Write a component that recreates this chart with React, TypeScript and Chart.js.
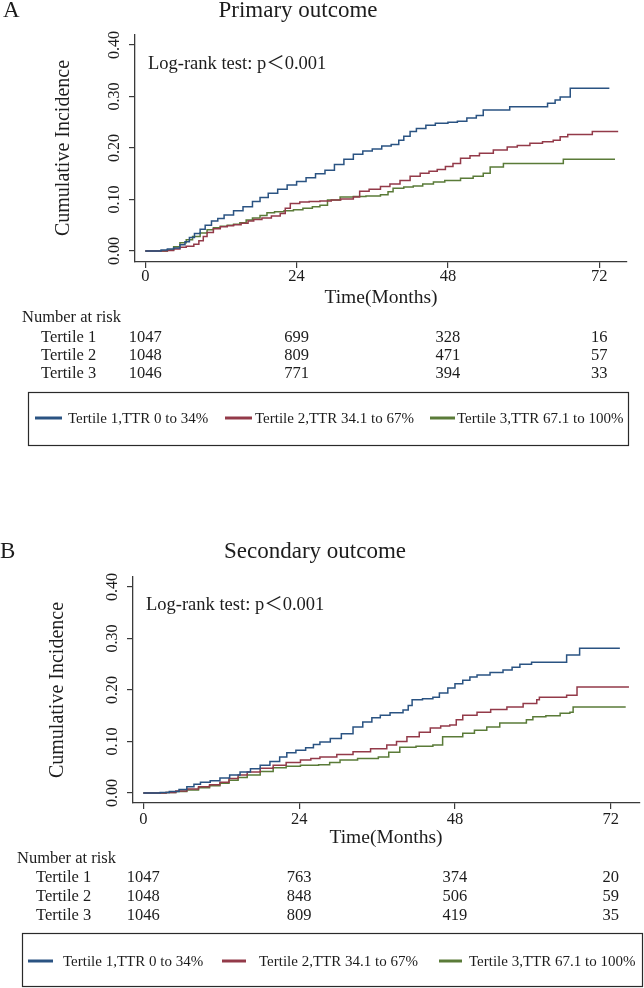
import React, { useEffect, useRef } from "react";
import { Chart, registerables } from "chart.js";

Chart.register(...registerables);

// ---------- data ----------
const TIME_TICKS = [0, 24, 48, 72];
const INCIDENCE_TICKS = [0, 0.1, 0.2, 0.3, 0.4];
const SERIES_LABELS = [
  "Tertile 1,TTR 0 to 34%",
  "Tertile 2,TTR 34.1 to 67%",
  "Tertile 3,TTR 67.1 to 100%",
];
const RISK_GROUPS = ["Tertile 1", "Tertile 2", "Tertile 3"];

const PRIMARY_AT_RISK_T1 = [1047, 699, 328, 16];
const PRIMARY_AT_RISK_T2 = [1048, 809, 471, 57];
const PRIMARY_AT_RISK_T3 = [1046, 771, 394, 33];
const SECONDARY_AT_RISK_T1 = [1047, 763, 374, 20];
const SECONDARY_AT_RISK_T2 = [1048, 848, 506, 59];
const SECONDARY_AT_RISK_T3 = [1046, 809, 419, 35];

// [month, cumulative incidence]
const PRIMARY_T1: [number, number][] = [
  [0, 0], [2.5, 0.002], [3.5, 0.004], [4.5, 0.006], [5.5, 0.012], [6.3, 0.018], [7, 0.026],
  [7.8, 0.034], [8.7, 0.042], [9.5, 0.05], [10.5, 0.058], [11.5, 0.063], [12.5, 0.07],
  [14, 0.078], [15.5, 0.086], [17, 0.096], [18.2, 0.104], [19.5, 0.112], [21, 0.12],
  [22.5, 0.128], [24, 0.135], [25.5, 0.142], [27, 0.15], [28.5, 0.157], [30, 0.168],
  [31.5, 0.178], [33, 0.188], [34.5, 0.194], [36, 0.198], [37.5, 0.204], [39, 0.207],
  [40.2, 0.215], [41, 0.223], [42, 0.232], [43, 0.238], [44.5, 0.244], [46, 0.248],
  [48, 0.25], [49.5, 0.252], [51, 0.258], [52.5, 0.263], [53.6, 0.274], [57.8, 0.28],
  [63.8, 0.287], [65, 0.293], [65.8, 0.299], [67.4, 0.316], [73.6, 0.316],
];
const PRIMARY_T2: [number, number][] = [
  [0, 0], [3.5, 0.001], [4.5, 0.004], [5.5, 0.007], [6.5, 0.009], [7.7, 0.013], [8.5, 0.02],
  [9.2, 0.028], [9.8, 0.036], [10.8, 0.043], [11.9, 0.047], [13, 0.049], [14, 0.051],
  [15.2, 0.054], [16.3, 0.058], [17.2, 0.061], [18.5, 0.064], [20, 0.068], [21.4, 0.073],
  [22.2, 0.083], [23, 0.092], [24.5, 0.095], [26, 0.096], [27.7, 0.097], [29.5, 0.099],
  [31, 0.101], [33, 0.105], [34, 0.116], [35.5, 0.12], [37.3, 0.125], [38.8, 0.13],
  [40.4, 0.137], [42, 0.145], [43.6, 0.151], [45, 0.155], [46.3, 0.158], [47.6, 0.164],
  [48.8, 0.17], [50, 0.18], [51.5, 0.185], [53, 0.19], [55.2, 0.196], [57.4, 0.202],
  [59, 0.205], [61, 0.209], [63, 0.212], [64.7, 0.215], [65.8, 0.222], [67, 0.226],
  [70.9, 0.232], [75, 0.232],
];
const PRIMARY_T3: [number, number][] = [
  [0, 0], [3.5, 0.002], [4.5, 0.008], [5.5, 0.016], [6.5, 0.022], [7.5, 0.028], [8.7, 0.035],
  [9.8, 0.041], [10.8, 0.045], [11.9, 0.048], [13, 0.05], [14, 0.052], [15, 0.055], [16, 0.06],
  [17, 0.064], [18.2, 0.069], [19.3, 0.074], [20.5, 0.076], [22, 0.078], [23.5, 0.08],
  [25, 0.083], [26.5, 0.086], [27.7, 0.089], [28.9, 0.099], [30.9, 0.105], [33, 0.106],
  [35, 0.107], [37.3, 0.109], [38.5, 0.115], [39.3, 0.122], [41, 0.124], [42.5, 0.126],
  [44, 0.13], [45.7, 0.134], [47.5, 0.137], [50, 0.141], [52, 0.145], [53.6, 0.151],
  [54.7, 0.163], [56.8, 0.17], [66.3, 0.178], [74.5, 0.178],
];
const SECONDARY_T1: [number, number][] = [
  [0, 0], [2.6, 0.001], [4, 0.003], [5.5, 0.007], [6.7, 0.012], [7.8, 0.017], [8.8, 0.021],
  [10.3, 0.024], [11.8, 0.029], [13.3, 0.035], [14.9, 0.041], [16.5, 0.047], [18, 0.054],
  [19.5, 0.061], [21, 0.07], [22.1, 0.078], [23.5, 0.083], [25, 0.088], [26.2, 0.094],
  [27.2, 0.099], [28.8, 0.106], [30.5, 0.115], [32.3, 0.128], [33.8, 0.138], [35.2, 0.146],
  [36.5, 0.151], [38, 0.156], [40, 0.161], [40.8, 0.17], [41.4, 0.181], [43, 0.183],
  [44.6, 0.186], [45.6, 0.194], [46.9, 0.204], [48, 0.212], [49.2, 0.219], [50.3, 0.225],
  [51.4, 0.229], [53.4, 0.234], [55.4, 0.239], [56.8, 0.244], [58, 0.25], [59.8, 0.254],
  [64, 0.254], [65.2, 0.268], [67.2, 0.281], [73.4, 0.281],
];
const SECONDARY_T2: [number, number][] = [
  [0, 0], [3.5, 0.001], [5, 0.004], [6.7, 0.008], [8.5, 0.012], [10.2, 0.016], [11.8, 0.021],
  [13.2, 0.028], [14.6, 0.035], [16, 0.041], [18, 0.048], [20, 0.054], [22, 0.059],
  [24.2, 0.064], [25.8, 0.067], [27.2, 0.07], [29.8, 0.075], [32.3, 0.08], [35, 0.086],
  [37.5, 0.093], [39, 0.1], [40.6, 0.109], [42.5, 0.118], [44.2, 0.126], [45.8, 0.13],
  [47.2, 0.132], [48.2, 0.142], [49.2, 0.151], [51.4, 0.157], [53.5, 0.162], [56, 0.167],
  [58.5, 0.174], [60.6, 0.181], [61, 0.186], [65.2, 0.19], [66.8, 0.206], [74.8, 0.206],
];
const SECONDARY_T3: [number, number][] = [
  [0, 0], [3.5, 0.001], [5, 0.003], [6.7, 0.006], [8.5, 0.01], [10.2, 0.014], [11.8, 0.019],
  [13.2, 0.025], [14.6, 0.03], [16, 0.035], [18, 0.042], [20, 0.049], [22, 0.052],
  [24.2, 0.054], [27, 0.055], [28.7, 0.059], [30.3, 0.064], [33, 0.067], [36.2, 0.07],
  [37.8, 0.079], [39.5, 0.089], [42, 0.091], [44.6, 0.093], [46.1, 0.109], [49.2, 0.116],
  [51, 0.122], [52.9, 0.128], [54.9, 0.136], [59, 0.142], [60, 0.148], [62, 0.15],
  [64.2, 0.155], [65.7, 0.157], [66.2, 0.167], [74.3, 0.167],
];

// ---------- styles ----------
const COLORS = ["#2a5382", "#933a49", "#5a7b38"];
const AXIS_COLOR = "#3a3a3a";
const TEXT_COLOR = "#1c1c1c";
const SERIF = '"Liberation Serif", "Times New Roman", serif';
const LOGRANK_FONT = '"Liberation Serif", "Noto Sans CJK SC", serif';

type Layout = {
  width: number;
  height: number;
  area: { left: number; right: number; top: number; bottom: number };
  xRange: [number, number];
  yRange: [number, number];
  xLabelPad: number;
  letter: { x: number; y: number };
  title: { x: number; y: number };
  logrank: { x: number; y: number };
  yTitle: { x: number; y: number };
  yTickGap: number;
  xTitle: { x: number; y: number };
  riskHeader: { x: number; y: number };
  riskLabelX: number;
  riskRows: number[];
  legendBox: [number, number, number, number];
  legendY: number;
  legendLines: [number, number][];
  legendTextX: number[];
};

const TOP_LAYOUT: Layout = {
  width: 644,
  height: 494,
  area: { left: 135, right: 627, top: 35, bottom: 262 },
  xRange: [-1.63, 76.4],
  yRange: [-0.0214, 0.4194],
  xLabelPad: 0,
  letter: { x: 3, y: 17 },
  title: { x: 298, y: 17 },
  logrank: { x: 148, y: 69 },
  yTitle: { x: 64, y: 148 },
  yTickGap: 20,
  xTitle: { x: 381, y: 303 },
  riskHeader: { x: 22, y: 322 },
  riskLabelX: 41,
  riskRows: [342, 360, 378],
  legendBox: [28, 392, 628, 445],
  legendY: 418,
  legendLines: [[35, 62], [225, 252], [430, 455]],
  legendTextX: [68, 255, 457],
};

const BOTTOM_LAYOUT: Layout = {
  width: 644,
  height: 494,
  area: { left: 133, right: 640, top: 83, bottom: 309 },
  xRange: [-1.59, 76.5],
  yRange: [-0.0194, 0.4194],
  xLabelPad: 2,
  letter: { x: 0, y: 64 },
  title: { x: 315, y: 64 },
  logrank: { x: 146, y: 116 },
  yTitle: { x: 57.5, y: 196 },
  yTickGap: 20.5,
  xTitle: { x: 386, y: 349 },
  riskHeader: { x: 17, y: 369 },
  riskLabelX: 36,
  riskRows: [388, 407, 426],
  legendBox: [22, 439, 642, 492],
  legendY: 467,
  legendLines: [[28, 53], [222, 246], [439, 462]],
  legendTextX: [63, 259, 469],
};

type PanelProps = {
  letter: string;
  title: string;
  series: [number, number][][];
  atRisk: number[][];
  layout: Layout;
};

function KMPanel({ letter, title, series, atRisk, layout }: PanelProps) {
  const ref = useRef<HTMLCanvasElement | null>(null);

  useEffect(() => {
    if (!ref.current) return;
    const L = layout;

    const annotate = {
      id: "kmAnnotate",
      afterDraw(chart: any) {
        const ctx = chart.ctx as CanvasRenderingContext2D;
        const xs = chart.scales.x;
        const ys = chart.scales.y;
        const ca = chart.chartArea;
        ctx.save();
        ctx.fillStyle = TEXT_COLOR;
        ctx.textBaseline = "alphabetic";

        // letter & title
        ctx.font = `23px ${SERIF}`;
        ctx.textAlign = "left";
        ctx.fillText(letter, L.letter.x, L.letter.y);
        ctx.textAlign = "center";
        ctx.fillText(title, L.title.x, L.title.y);

        // log-rank
        ctx.font = `18.5px ${LOGRANK_FONT}`;
        ctx.textAlign = "left";
        ctx.fillText("Log-rank test: p\uFF1C0.001", L.logrank.x, L.logrank.y);

        // y title
        ctx.font = `20px ${SERIF}`;
        ctx.save();
        ctx.translate(L.yTitle.x, L.yTitle.y);
        ctx.rotate(-Math.PI / 2);
        ctx.textAlign = "center";
        ctx.textBaseline = "middle";
        ctx.fillText("Cumulative Incidence", 0, 0);
        ctx.restore();

        // y tick labels (rotated)
        ctx.font = `16px ${SERIF}`;
        ys.ticks.forEach((t: any) => {
          const py = ys.getPixelForValue(t.value);
          ctx.save();
          ctx.translate(ca.left - L.yTickGap, py);
          ctx.rotate(-Math.PI / 2);
          ctx.textAlign = "center";
          ctx.textBaseline = "middle";
          ctx.fillText(Number(t.value).toFixed(2), 0, 0);
          ctx.restore();
        });

        // x title
        ctx.font = `19.5px ${SERIF}`;
        ctx.textAlign = "center";
        ctx.textBaseline = "alphabetic";
        ctx.fillText("Time(Months)", L.xTitle.x, L.xTitle.y);

        // number at risk
        ctx.font = `16.5px ${SERIF}`;
        ctx.textAlign = "left";
        ctx.fillText("Number at risk", L.riskHeader.x, L.riskHeader.y);
        RISK_GROUPS.forEach((g, i) => {
          const yy = L.riskRows[i];
          ctx.textAlign = "left";
          ctx.fillText(g, L.riskLabelX, yy);
          ctx.textAlign = "center";
          atRisk[i].forEach((n, j) => {
            ctx.fillText(String(n), xs.getPixelForValue(TIME_TICKS[j]), yy);
          });
        });

        // legend box
        const [bx1, by1, bx2, by2] = L.legendBox;
        ctx.strokeStyle = "#2a2a2a";
        ctx.lineWidth = 1.2;
        ctx.strokeRect(bx1 + 0.5, by1 + 0.5, bx2 - bx1, by2 - by1);
        ctx.font = `15px ${SERIF}`;
        ctx.textBaseline = "middle";
        ctx.textAlign = "left";
        SERIES_LABELS.forEach((lab, i) => {
          ctx.strokeStyle = COLORS[i];
          ctx.lineWidth = 3;
          ctx.beginPath();
          ctx.moveTo(L.legendLines[i][0], L.legendY);
          ctx.lineTo(L.legendLines[i][1], L.legendY);
          ctx.stroke();
          ctx.fillStyle = TEXT_COLOR;
          ctx.fillText(lab, L.legendTextX[i], L.legendY + 1);
        });
        ctx.restore();
      },
    };

    const chart = new Chart(ref.current, {
      type: "line",
      data: {
        datasets: series.map((s, i) => ({
          label: SERIES_LABELS[i],
          data: s.map(([m, v]) => ({ x: m, y: v })),
          borderColor: COLORS[i],
          borderWidth: 1.5,
          pointRadius: 0,
          stepped: true,
          fill: false,
        })),
      },
      options: {
        responsive: false,
        animation: false,
        events: [],
        layout: {
          padding: {
            left: 0,
            top: L.area.top,
            right: L.width - L.area.right,
            bottom: 0,
          },
        },
        plugins: {
          legend: { display: false },
          tooltip: { enabled: false },
          title: { display: false },
        },
        scales: {
          x: {
            type: "linear",
            min: L.xRange[0],
            max: L.xRange[1],
            afterFit: (s: any) => {
              s.height = L.height - L.area.bottom;
            },
            afterBuildTicks: (s: any) => {
              s.ticks = TIME_TICKS.map((v) => ({ value: v }));
            },
            grid: {
              drawOnChartArea: false,
              drawTicks: true,
              tickLength: 6,
              color: AXIS_COLOR,
              lineWidth: 1.2,
            },
            border: { display: true, color: AXIS_COLOR, width: 1.3 },
            ticks: {
              autoSkip: false,
              maxRotation: 0,
              padding: L.xLabelPad,
              color: TEXT_COLOR,
              font: { family: SERIF, size: 16.5, lineHeight: 1 },
              callback: (v: any) => String(v),
            },
          },
          y: {
            type: "linear",
            min: L.yRange[0],
            max: L.yRange[1],
            afterFit: (s: any) => {
              s.width = L.area.left;
            },
            afterBuildTicks: (s: any) => {
              s.ticks = INCIDENCE_TICKS.map((v) => ({ value: v }));
            },
            grid: {
              drawOnChartArea: false,
              drawTicks: true,
              tickLength: 6,
              color: AXIS_COLOR,
              lineWidth: 1.2,
            },
            border: { display: true, color: AXIS_COLOR, width: 1.3 },
            ticks: { display: false },
          },
        },
      },
      plugins: [annotate],
    } as any);

    return () => chart.destroy();
  }, [letter, title, series, atRisk, layout]);

  return (
    <canvas
      ref={ref}
      width={layout.width}
      height={layout.height}
      style={{ display: "block", width: layout.width, height: layout.height }}
    />
  );
}

export default function App() {
  return (
    <div
      style={{
        position: "absolute",
        left: 0,
        top: 0,
        width: 644,
        height: 988,
        background: "#ffffff",
      }}
    >
      <KMPanel
        letter="A"
        title="Primary outcome"
        series={[PRIMARY_T1, PRIMARY_T2, PRIMARY_T3]}
        atRisk={[PRIMARY_AT_RISK_T1, PRIMARY_AT_RISK_T2, PRIMARY_AT_RISK_T3]}
        layout={TOP_LAYOUT}
      />
      <KMPanel
        letter="B"
        title="Secondary outcome"
        series={[SECONDARY_T1, SECONDARY_T2, SECONDARY_T3]}
        atRisk={[SECONDARY_AT_RISK_T1, SECONDARY_AT_RISK_T2, SECONDARY_AT_RISK_T3]}
        layout={BOTTOM_LAYOUT}
      />
    </div>
  );
}
